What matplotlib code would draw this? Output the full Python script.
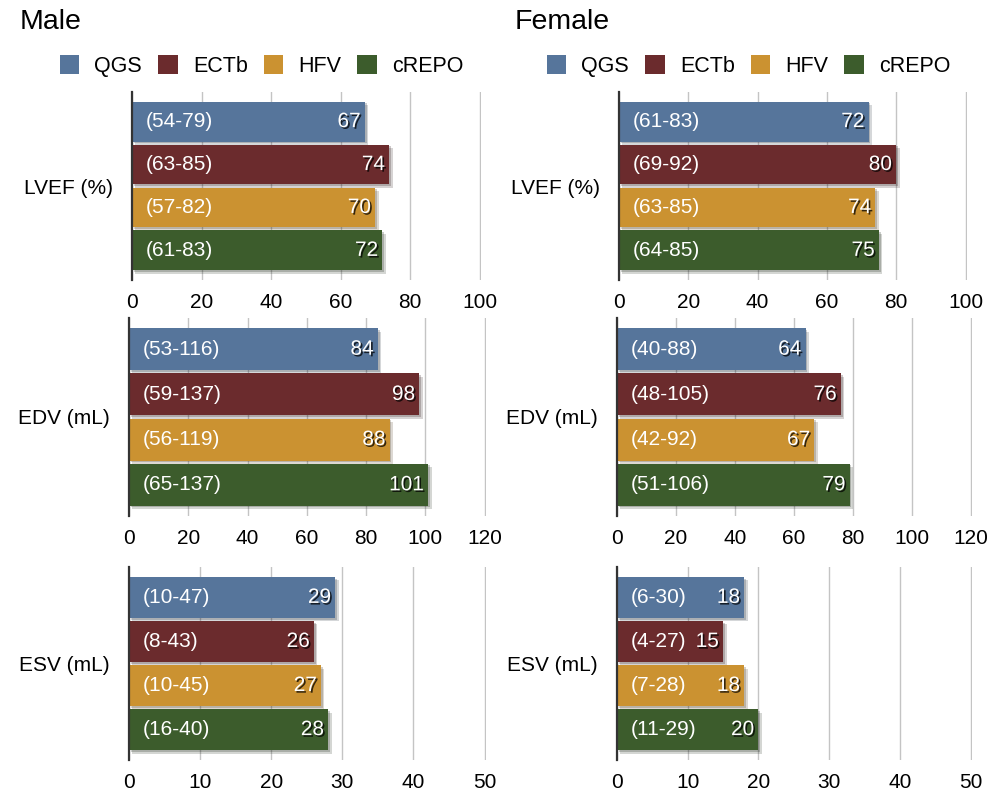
import matplotlib
matplotlib.use('Agg')
import matplotlib.pyplot as plt
import matplotlib.patheffects as pe
from matplotlib.patches import Patch
import numpy as np

plt.rcParams['font.family'] = ['Liberation Sans', 'DejaVu Sans']

# data
methods = ['QGS', 'ECTb', 'HFV', 'cREPO']
metrics = ['LVEF (%)', 'EDV (mL)', 'ESV (mL)']
xmax = [100, 120, 50]
xstep = [20, 20, 10]

male_lvef = [67, 74, 70, 72]
male_edv = [84, 98, 88, 101]
male_esv = [29, 26, 27, 28]
male_lvef_rng = ['(54-79)', '(63-85)', '(57-82)', '(61-83)']
male_edv_rng = ['(53-116)', '(59-137)', '(56-119)', '(65-137)']
male_esv_rng = ['(10-47)', '(8-43)', '(10-45)', '(16-40)']

female_lvef = [72, 80, 74, 75]
female_edv = [64, 76, 67, 79]
female_esv = [18, 15, 18, 20]
female_lvef_rng = ['(61-83)', '(69-92)', '(63-85)', '(64-85)']
female_edv_rng = ['(40-88)', '(48-105)', '(42-92)', '(51-106)']
female_esv_rng = ['(6-30)', '(4-27)', '(7-28)', '(11-29)']

colors = ['#56759b', '#6b2b2d', '#cb9231', '#3c5c2c']

W, H = 1001, 794
fig = plt.figure(figsize=(W/100, H/100), dpi=100)

# pixel boxes (x0, x1) per column/row, (y0, y1) per row
rows_y = [(92, 280), (318, 516), (567, 760)]
cols_x = [[(132, 481), (129, 486), (129, 486)],
          [(619, 967), (617, 972), (617, 972)]]

panels = [
    [(male_lvef, male_lvef_rng), (male_edv, male_edv_rng), (male_esv, male_esv_rng)],
    [(female_lvef, female_lvef_rng), (female_edv, female_edv_rng), (female_esv, female_esv_rng)],
]

bar_shadow = [pe.SimplePatchShadow(offset=(2.5, -2.5), alpha=0.18),
              pe.SimplePatchShadow(offset=(1.2, -1.2), alpha=0.22), pe.Normal()]
txt_shadow = [pe.withSimplePatchShadow(offset=(1.2, -1.2), shadow_rgbFace='k', alpha=0.75)]

for c in range(2):
    for r in range(3):
        vals, rngs = panels[c][r]
        x0, x1 = cols_x[c][r]
        y0, y1 = rows_y[r]
        ax = fig.add_axes([x0/W, 1 - y1/H, (x1 - x0)/W, (y1 - y0)/H])
        ypos = np.arange(len(methods))
        bars = ax.barh(ypos, vals, height=0.93, color=colors, zorder=3)
        for b in bars:
            b.set_path_effects(bar_shadow)
        for i, (v, s) in enumerate(zip(vals, rngs)):
            ax.annotate(s, (0, i), xytext=(10, 0), textcoords='offset points',
                        ha='left', va='center', color='white', fontsize=15, zorder=5)
            ax.annotate(str(v), (v, i), xytext=(-3, 0), textcoords='offset points',
                        ha='right', va='center', color='white', fontsize=15, zorder=5,
                        path_effects=txt_shadow)
        ax.set_xlim(0, xmax[r] * 1.004)
        ax.set_ylim(3.69, -0.69)
        ax.set_xticks(np.arange(0, xmax[r] + 1, xstep[r]))
        ax.set_yticks([1.5])
        ax.set_yticklabels([metrics[r]])
        ax.tick_params(axis='both', length=0, labelsize=15)
        ax.tick_params(axis='x', pad=9)
        ax.tick_params(axis='y', pad=14)
        ax.grid(axis='x', color='#c4c4c4', linewidth=1)
        ax.set_axisbelow(True)
        for sp in ['top', 'right', 'bottom']:
            ax.spines[sp].set_visible(False)
        ax.spines['left'].set_color('#333333')
        ax.spines['left'].set_linewidth(1.6)
        ax.spines['left'].set_zorder(4)
        ax.patch.set_alpha(0)

handles = [Patch(facecolor=col, edgecolor='none') for col in colors]
for tx, lx, title in [(20, 60, 'Male'), (515, 547, 'Female')]:
    fig.text(tx/W, 1 - 22/H, title, fontsize=20.5, ha='left', va='center')
    fig.legend(handles, methods, loc='center left', bbox_to_anchor=(lx/W, 1 - 66/H),
               ncol=4, frameon=False, fontsize=15.5, handlelength=0.9, handleheight=1.0,
               handletextpad=0.7, columnspacing=0.75, borderpad=0, borderaxespad=0)

fig.savefig('out.png', dpi=100)
